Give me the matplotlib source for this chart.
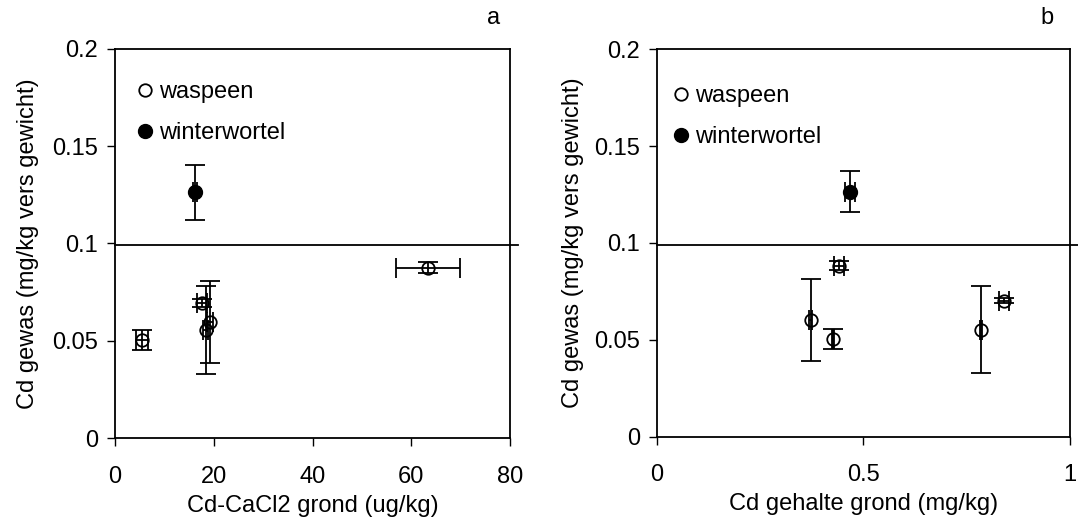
import matplotlib
matplotlib.use("Agg")
import matplotlib.pyplot as plt
from matplotlib.lines import Line2D

plt.rcParams["font.family"] = ["Liberation Sans", "DejaVu Sans"]
plt.rcParams["font.size"] = 17

# paneel a: Cd-CaCl2 grond
a_was_x = [5.4, 17.7, 18.4, 19.2, 63.4]
a_was_y = [0.0504, 0.0696, 0.0555, 0.0598, 0.0876]
a_was_xerr = [1.2, 1.0, 0.5, 0.6, 6.4]
a_was_yerr = [0.0052, 0.002, 0.0225, 0.021, 0.0028]
a_win_x = [16.2]
a_win_y = [0.1263]
a_win_xerr = [0.4]
a_win_yerr = [0.014]

# paneel b: Cd gehalte grond
b_was_x = [0.3725, 0.427, 0.441, 0.785, 0.841]
b_was_y = [0.0603, 0.0503, 0.0883, 0.0552, 0.0702]
b_was_xerr = [0.003, 0.003, 0.012, 0.003, 0.012]
b_was_yerr = [0.021, 0.0052, 0.0022, 0.0224, 0.0012]
b_win_x = [0.468]
b_win_y = [0.1264]
b_win_xerr = [0.012]
b_win_yerr = [0.0106]

norm = 0.099

fig = plt.figure(figsize=(10.78, 5.21), dpi=100)
ax1 = fig.add_axes([0.1067, 0.1593, 0.3664, 0.7467])
ax2 = fig.add_axes([0.6092, 0.1618, 0.3834, 0.7436])


def panel(ax, wx, wy, wxe, wye, fx, fy, fxe, fye, xlim, xticks, xlabels, xlabel, leg_xy, ylpad):
    ax.errorbar(wx, wy, xerr=wxe, yerr=wye, fmt="o", mfc="none", mec="black",
                ms=9, mew=1.3, ecolor="black", elinewidth=1.3, capsize=7, capthick=1.3)
    ax.errorbar(fx, fy, xerr=fxe, yerr=fye, fmt="o", mfc="black", mec="black",
                ms=10, ecolor="black", elinewidth=1.3, capsize=7, capthick=1.3)
    ax.axhline(norm, color="black", lw=1.3, xmax=1.02, clip_on=False)
    ax.set_xlim(xlim)
    ax.set_ylim(0, 0.2)
    ax.set_xticks(xticks)
    ax.set_xticklabels(xlabels)
    ax.set_yticks([0, 0.05, 0.1, 0.15, 0.2])
    ax.set_yticklabels(["0", "0.05", "0.1", "0.15", "0.2"])
    ax.tick_params(direction="out", length=6, width=1, pad=6)
    ax.tick_params(axis="x", pad=14)
    for s in ax.spines.values():
        s.set_linewidth(1.3)
    ax.set_xlabel(xlabel, labelpad=5)
    ax.set_ylabel("Cd gewas (mg/kg vers gewicht)", labelpad=ylpad)
    handles = [
        Line2D([], [], ls="none", marker="o", mfc="none", mec="black", ms=9, mew=1.3),
        Line2D([], [], ls="none", marker="o", mfc="black", mec="black", ms=10),
    ]
    ax.legend(handles, ["waspeen", "winterwortel"], loc="upper left",
              bbox_to_anchor=leg_xy, frameon=False, handlelength=0.6,
              handletextpad=0.3, labelspacing=0.8, borderaxespad=0, borderpad=0)


panel(ax1, a_was_x, a_was_y, a_was_xerr, a_was_yerr,
      a_win_x, a_win_y, a_win_xerr, a_win_yerr,
      (0, 80), [0, 20, 40, 60, 80], ["0", "20", "40", "60", "80"],
      "Cd-CaCl2 grond (ug/kg)", (0.058, 0.917), 10)
panel(ax2, b_was_x, b_was_y, b_was_xerr, b_was_yerr,
      b_win_x, b_win_y, b_win_xerr, b_win_yerr,
      (0, 1), [0, 0.5, 1], ["0", "0.5", "1"],
      "Cd gehalte grond (mg/kg)", (0.042, 0.907), 7.5)

fig.text(494 / 1078, 1 - 18 / 521, "a", ha="center", va="center")
fig.text(1047 / 1078, 1 - 18 / 521, "b", ha="center", va="center")

fig.savefig("out.png", dpi=100)
